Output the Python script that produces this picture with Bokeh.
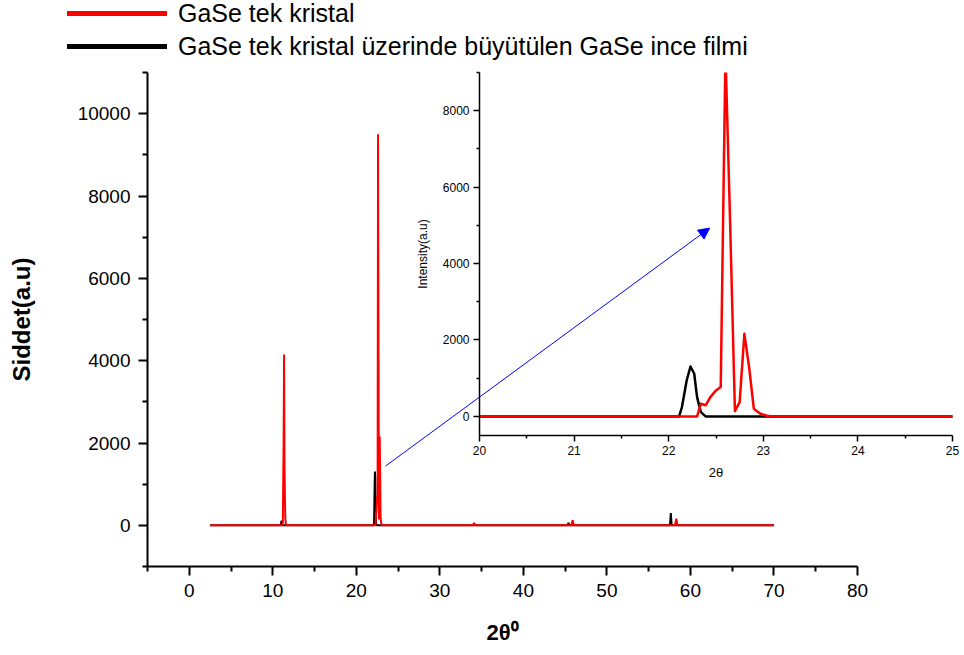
from bokeh.plotting import figure
from bokeh.models import (Range1d, FixedTicker, Legend, LegendItem, Arrow,
                          NormalHead)
from bokeh.embed import file_html
from bokeh.resources import INLINE

# X-ray diffraction scans (2-theta in degrees, counts)
red_2theta = [2.5, 11.20, 11.30, 11.35, 11.40, 11.45, 11.50, 11.60,
              22.30, 22.34, 22.39, 22.44, 22.50, 22.55, 22.60, 22.65, 22.70,
              22.75, 22.80, 22.85, 22.90, 22.97, 23.04, 23.10,
              33.95, 34.10, 34.25, 45.75, 45.90, 46.05, 58.15, 58.30, 58.45,
              70.0]
red_counts = [0, 0, 2130, 4150, 1520, 700, 150, 0,
              0, 330, 290, 505, 680, 770, 9500, 5000, 140,
              375, 2160, 1290, 200, 70, 17, 0,
              0, 55, 0, 0, 125, 0, 0, 160, 0,
              0]

black_2theta = [2.5, 10.95, 11.05, 11.15, 22.11, 22.14, 22.19, 22.23, 22.27,
                22.30, 22.34, 22.39, 45.30, 45.40, 45.50, 57.55, 57.65, 57.75,
                70.0]
black_counts = [0, 0, 110, 0, 0, 245, 940, 1307, 1115,
                505, 113, 0, 0, 60, 0, 0, 300, 0,
                0]

red_label = "GaSe tek kristal"
black_label = "GaSe tek kristal üzerinde büyütülen GaSe ince filmi"

main_x_ticks = [0, 10, 20, 30, 40, 50, 60, 70, 80]
main_x_minor = [-5, 5, 15, 25, 35, 45, 55, 65, 75]
main_y_ticks = [0, 2000, 4000, 6000, 8000, 10000]
main_y_minor = [-1000, 1000, 3000, 5000, 7000, 9000, 11000]

inset_x_ticks = [20, 21, 22, 23, 24, 25]
inset_x_minor = [20.5, 21.5, 22.5, 23.5, 24.5]
inset_y_ticks = [0, 2000, 4000, 6000, 8000]
inset_y_minor = [1000, 3000, 5000, 7000, 9000]

# zoom arrow, in main-plot data units
arrow_start = (23.5, 1440)
arrow_end = (62.3, 7220)

FONT = "Liberation Sans"


def style_axes(fig, xt, xm, yt, ym, tick_size, major_len, minor_len, lw):
    for ax, t, m in ((fig.xaxis, xt, xm), (fig.yaxis, yt, ym)):
        ax.ticker = FixedTicker(ticks=t, minor_ticks=m)
        ax.major_tick_in = 0
        ax.minor_tick_in = 0
        ax.major_tick_out = major_len
        ax.minor_tick_out = minor_len
        ax.axis_line_width = lw
        ax.major_tick_line_width = lw
        ax.minor_tick_line_width = lw
        ax.axis_line_color = "black"
        ax.major_tick_line_color = "black"
        ax.minor_tick_line_color = "black"
        ax.major_label_text_font = FONT
        ax.major_label_text_font_size = tick_size
        ax.major_label_text_color = "black"
        ax.axis_label_text_font = FONT
        ax.axis_label_text_color = "black"
    fig.xgrid.visible = False
    fig.ygrid.visible = False
    fig.outline_line_color = None


# ---- main plot ----
p = figure(width=964, height=655,
           x_range=Range1d(-5, 80), y_range=Range1d(-1000, 11000),
           output_backend="svg", toolbar_location=None,
           min_border_left=147, min_border_right=107,
           min_border_top=72, min_border_bottom=89)
style_axes(p, main_x_ticks, main_x_minor, main_y_ticks, main_y_minor,
           "19px", 9, 5, 2)
p.xaxis.major_label_standoff = 8
p.yaxis.major_label_standoff = 8
p.xaxis.axis_label = "2θ⁰"
p.xaxis.axis_label_text_font_size = "22px"
p.xaxis.axis_label_text_font_style = "bold"
p.xaxis.axis_label_standoff = 20
p.yaxis.axis_label = "Siddet(a.u)"
p.yaxis.axis_label_text_font_size = "24px"
p.yaxis.axis_label_text_font_style = "bold"
p.yaxis.axis_label_standoff = 40

p.line(black_2theta, black_counts, line_color="black", line_width=2)
p.line(red_2theta, red_counts, line_color="red", line_width=2)

p.add_layout(Arrow(x_start=arrow_start[0], y_start=arrow_start[1],
                   x_end=arrow_end[0], y_end=arrow_end[1],
                   line_color="blue", line_width=1,
                   end=NormalHead(size=11, fill_color="blue",
                                  line_color="blue", line_width=1)))

# ---- legend strip across the top of the page ----
# the strip's ranges lie outside the scans, so only the legend swatches show
lg = figure(width=964, height=70, x_range=Range1d(0, 1), y_range=Range1d(0, 1),
            output_backend="svg", toolbar_location=None, min_border=0,
            background_fill_alpha=0, border_fill_alpha=0,
            styles={"position": "absolute", "left": "0px", "top": "0px"})
lg.axis.visible = False
lg.xgrid.visible = False
lg.ygrid.visible = False
lg.outline_line_color = None
leg_red = lg.line(red_2theta, red_counts, line_color="red", line_width=5,
                  line_cap="round")
leg_black = lg.line(black_2theta, black_counts, line_color="black",
                    line_width=5, line_cap="round")
legend = Legend(items=[LegendItem(label=red_label, renderers=[leg_red]),
                       LegendItem(label=black_label, renderers=[leg_black])],
                location=(67, 9), glyph_width=100, glyph_height=30,
                label_height=30, spacing=3, padding=0, margin=0,
                border_line_color=None, background_fill_alpha=0,
                label_text_font=FONT, label_text_font_size="25px",
                label_text_color="black", label_standoff=11)
lg.add_layout(legend)

# ---- inset zoom on the 22-23 degree reflection ----
q = figure(width=564, height=430,
           x_range=Range1d(20, 25), y_range=Range1d(-500, 9000),
           output_backend="svg", toolbar_location=None,
           min_border_left=79, min_border_right=12,
           min_border_top=10, min_border_bottom=57,
           background_fill_alpha=0, border_fill_alpha=0,
           styles={"position": "absolute", "left": "400px", "top": "62px"})
style_axes(q, inset_x_ticks, inset_x_minor, inset_y_ticks, inset_y_minor,
           "12px", 6, 3, 1.5)
q.xaxis.major_label_standoff = 4
q.yaxis.major_label_standoff = 4
q.xaxis.axis_label = "2θ"
q.xaxis.axis_label_text_font_size = "13px"
q.xaxis.axis_label_text_font_style = "normal"
q.xaxis.axis_label_standoff = 7
q.yaxis.axis_label = "Intensity(a.u)"
q.yaxis.axis_label_text_font_size = "12px"
q.yaxis.axis_label_text_font_style = "normal"
q.yaxis.axis_label_standoff = 10

q.line(black_2theta, black_counts, line_color="black", line_width=2.5,
       line_join="round")
q.line(red_2theta, red_counts, line_color="red", line_width=2.5,
       line_join="round")

with open("out.html", "w") as f:
    f.write(file_html([p, lg, q], INLINE))
